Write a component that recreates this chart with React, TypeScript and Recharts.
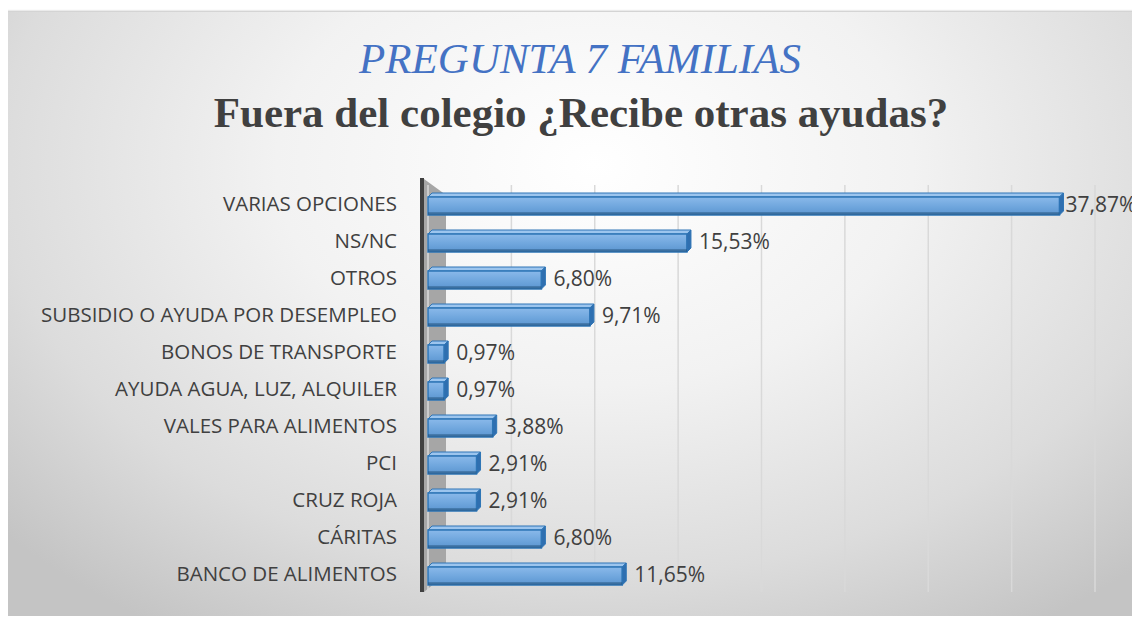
import { BarChart, Bar, XAxis, YAxis, CartesianGrid, LabelList } from "recharts";

const categories = [
  "VARIAS OPCIONES",
  "NS/NC",
  "OTROS",
  "SUBSIDIO O AYUDA POR DESEMPLEO",
  "BONOS DE TRANSPORTE",
  "AYUDA AGUA, LUZ, ALQUILER",
  "VALES PARA ALIMENTOS",
  "PCI",
  "CRUZ ROJA",
  "CÁRITAS",
  "BANCO DE ALIMENTOS",
];

const percentages = [37.87, 15.53, 6.8, 9.71, 0.97, 0.97, 3.88, 2.91, 2.91, 6.8, 11.65];

const xTicks = [0, 5, 10, 15, 20, 25, 30, 35, 40];

const data = categories.map((name, i) => ({ name, value: percentages[i] }));

const W = 1140;
const H = 624;
const AXIS_W = 428;
const MARGIN = { top: 185, right: 45, bottom: 32, left: 0 };
const LABEL_FONT = 21;

const fmt = (v: number) => v.toFixed(2).replace(".", ",") + "%";

const Bar3D = (props: any) => {
  const { x, y, width, height } = props;
  const d = 4;
  const top = y + d;
  return (
    <g>
      <polygon
        points={`${x},${top} ${x + d},${y} ${x + width + d},${y} ${x + width},${top}`}
        fill="#9cc5ee"
        stroke="#2E75B6"
        strokeWidth={1}
      />
      <rect
        x={x}
        y={top}
        width={width}
        height={height - d}
        fill="url(#barFront)"
        stroke="#2E75B6"
        strokeWidth={1.5}
      />
      <polygon
        points={`${x + width},${top} ${x + width + d},${y} ${x + width + d},${y + height - d} ${x + width},${y + height}`}
        fill="#2f6fb0"
        stroke="#2E75B6"
        strokeWidth={1}
      />
      <line x1={x} y1={y + height - 1.5} x2={x + width} y2={y + height - 1.5} stroke="#1f4e79" strokeWidth={2.5} opacity={0.55} />
    </g>
  );
};

// value label to the right of the bar, pulled back inside the picture if it would run off
const ValueLabel = (props: any) => {
  const { x, y, width, height, value } = props;
  const text = fmt(Number(value));
  const estW = text.length * LABEL_FONT * 0.56;
  let lx = x + width + 12;
  if (lx + estW > W - 4) lx = Math.max(x + width + 6, W - 4 - estW);
  return (
    <text
      x={lx}
      y={y + height / 2}
      dominantBaseline="central"
      fill="#404040"
      fontSize={LABEL_FONT}
      fontFamily="'Open Sans', sans-serif"
    >
      {text}
    </text>
  );
};

export default function App() {
  const plotTop = MARGIN.top;
  const plotBottom = H - MARGIN.bottom;
  return (
    <div style={{ position: "relative", width: W, height: H, margin: -8, overflow: "hidden", background: "#fff" }}>
      <div
        style={{
          position: "absolute",
          left: 4,
          top: 12,
          width: W - 4,
          height: H - 12,
          background: "radial-gradient(ellipse 70% 90% at 52% 25%, #ffffff 0%, #f2f2f2 40%, #dcdcdc 75%, #c4c4c4 100%)",
          boxShadow: "0 -1px 2px rgba(0,0,0,0.25)",
        }}
      />
      <svg style={{ position: "absolute", left: 0, top: 0 }} width={W} height={H}>
        <polygon
          points={`${AXIS_W - 4},${plotTop - 6} ${AXIS_W + 18},${plotTop + 10} ${AXIS_W + 18},${plotBottom - 18} ${AXIS_W - 4},${plotBottom}`}
          fill="#a6a6a6"
        />
        <line x1={AXIS_W - 6} y1={plotTop - 7} x2={AXIS_W - 6} y2={plotBottom} stroke="#404040" strokeWidth={4} />
      </svg>
      <div
        style={{
          position: "absolute",
          left: 0,
          top: 37,
          width: 1160,
          textAlign: "center",
          fontFamily: "'Liberation Serif', 'Times New Roman', serif",
          fontStyle: "italic",
          fontSize: 43,
          color: "#4472C4",
          lineHeight: "44px",
        }}
      >
        PREGUNTA 7 FAMILIAS
      </div>
      <div
        style={{
          position: "absolute",
          left: 0,
          top: 90,
          width: 1162,
          textAlign: "center",
          fontFamily: "'Liberation Serif', 'Times New Roman', serif",
          fontWeight: "bold",
          fontSize: 43,
          color: "#404040",
          lineHeight: "46px",
        }}
      >
        Fuera del colegio ¿Recibe otras ayudas?
      </div>
      <div style={{ position: "absolute", left: 0, top: 0 }}>
        <BarChart width={W} height={H} data={data} layout="vertical" margin={MARGIN} barSize={22}>
          <defs>
            <linearGradient id="barFront" x1="0" y1="0" x2="0" y2="1">
              <stop offset="0%" stopColor="#8ab9ea" />
              <stop offset="55%" stopColor="#6fa6dd" />
              <stop offset="100%" stopColor="#5b95d0" />
            </linearGradient>
          </defs>
          <CartesianGrid horizontal={false} stroke="#d9d9d9" strokeWidth={1.5} />
          <XAxis type="number" domain={[0, 40]} ticks={xTicks} hide />
          <YAxis
            type="category"
            dataKey="name"
            width={AXIS_W}
            axisLine={false}
            tickLine={false}
            tickSize={0}
            tickMargin={31}
            interval={0}
            tick={{ fill: "#404040", fontSize: 20.5, fontFamily: "'Open Sans', sans-serif" }}
          />
          <Bar dataKey="value" shape={<Bar3D />} isAnimationActive={false}>
            <LabelList dataKey="value" content={<ValueLabel />} />
          </Bar>
        </BarChart>
      </div>
    </div>
  );
}
